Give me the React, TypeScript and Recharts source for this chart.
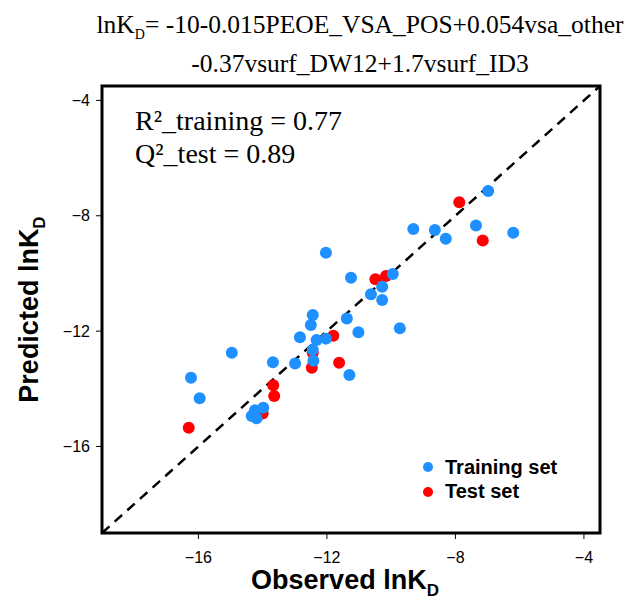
import React from 'react'
import {
  Legend,
  ReferenceArea,
  ReferenceLine,
  Scatter,
  ScatterChart,
  XAxis,
  YAxis,
} from 'recharts'

// values (observed vs predicted lnK_D)
const trainObserved = [
  -16.23, -15.96, -14.96, -13.68, -12.99, -12.84, -12.5, -12.44, -12.32, -12.44, -12.42, -12.03,
  -11.38, -11.3, -11.02, -12.03, -11.25, -10.63, -10.28, -10.28, -9.95, -9.73, -9.31, -8.64, -8.3,
  -7.36, -6.98, -6.2, -14.24, -14.34, -13.98, -14.19,
]
const trainPredicted = [
  -13.62, -14.33, -12.75, -13.08, -13.12, -12.21, -11.79, -11.44, -12.31, -12.65, -13.03, -12.26,
  -11.56, -13.52, -12.04, -9.28, -10.15, -10.72, -10.46, -10.92, -10.02, -11.9, -8.46, -8.49, -8.8,
  -8.34, -7.14, -8.59, -14.74, -14.94, -14.66, -15.02,
]
const testObserved = [-16.3, -13.67, -13.64, -14.0, -12.47, -12.44, -11.8, -11.62, -10.49, -10.16, -7.88, -7.15]
const testPredicted = [-15.35, -13.88, -14.25, -14.86, -13.27, -12.75, -12.16, -13.1, -10.2, -10.09, -7.53, -8.86]

const axisDomain: [number, number] = [-19, -3.5]
const axisTicks = [-16, -12, -8, -4]
const statLines = ['R²_training = 0.77', 'Q²_test = 0.89']
const legendItems = [
  { name: 'Training set', color: '#1E90FF' },
  { name: 'Test set', color: '#FF0000' },
]

const trainData = trainObserved.map((x, i) => ({ x, y: trainPredicted[i] }))
const testData = testObserved.map((x, i) => ({ x, y: testPredicted[i] }))

const SANS = '"Liberation Sans", Arial, sans-serif'
const SERIF = '"Liberation Serif", "Times New Roman", serif'

const fmt = (v: number) => String(v).replace('-', '\u2212')

const dot = (color: string) => (p: any) => <circle cx={p.cx} cy={p.cy} r={6} fill={color} />

const XTitle = ({ viewBox }: any) => {
  const cx = viewBox.x + viewBox.width / 2 - 6
  return (
    <text x={cx} y={589} textAnchor="middle" fontFamily={SANS} fontWeight="bold" fontSize={27} fill="#000">
      <tspan>Observed lnK</tspan>
      <tspan fontSize={17} dy={7}>D</tspan>
    </text>
  )
}

const YTitle = ({ viewBox }: any) => {
  const cy = viewBox.y + viewBox.height / 2
  return (
    <text
      transform={`translate(38, ${cy}) rotate(-90)`}
      textAnchor="middle"
      fontFamily={SANS}
      fontWeight="bold"
      fontSize={27}
      fill="#000"
    >
      <tspan>Predicted lnK</tspan>
      <tspan fontSize={17} dy={7}>D</tspan>
    </text>
  )
}

const LegendBox = () => (
  <div style={{ fontFamily: SANS, fontWeight: 'bold', fontSize: 20, color: '#000' }}>
    {legendItems.map((item) => (
      <div key={item.name} style={{ display: 'flex', alignItems: 'center', height: 24.4 }}>
        <svg width={12} height={12}>
          <circle cx={6} cy={6} r={5} fill={item.color} />
        </svg>
        <span style={{ marginLeft: 11, whiteSpace: 'nowrap' }}>{item.name}</span>
      </div>
    ))}
  </div>
)

export default function App() {
  return (
    <div
      style={{
        position: 'absolute',
        left: 0,
        top: 0,
        width: 637,
        height: 602,
        overflow: 'hidden',
        background: '#fff',
      }}
    >
      <div
        style={{
          position: 'absolute',
          left: 0,
          top: 10,
          width: 637,
          paddingLeft: 83,
          boxSizing: 'border-box',
          textAlign: 'center',
          fontFamily: SERIF,
          fontSize: 25.5,
          lineHeight: '29px',
          color: '#000',
        }}
      >
        <div style={{ whiteSpace: 'nowrap' }}>
          lnK<sub style={{ fontSize: 14 }}>D</sub>= -10-0.015PEOE_VSA_POS+0.054vsa_other
        </div>
        <div style={{ whiteSpace: 'nowrap' }}>-0.37vsurf_DW12+1.7vsurf_ID3</div>
      </div>

      <ScatterChart width={637} height={602} margin={{ top: 86, right: 37, bottom: 0, left: 0 }}>
        <XAxis
          type="number"
          dataKey="x"
          domain={axisDomain}
          ticks={axisTicks}
          allowDataOverflow
          height={69}
          axisLine={false}
          tickLine={{ stroke: '#000', strokeWidth: 1 }}
          tickSize={6}
          tickMargin={13}
          tickFormatter={fmt}
          tick={{ fill: '#000', fontSize: 16, fontFamily: SANS }}
          label={{ content: (props: any) => <XTitle {...props} /> }}
        />
        <YAxis
          type="number"
          dataKey="y"
          domain={axisDomain}
          ticks={axisTicks}
          allowDataOverflow
          width={102}
          axisLine={false}
          tickLine={{ stroke: '#000', strokeWidth: 1 }}
          tickSize={6}
          tickMargin={6}
          tickFormatter={fmt}
          tick={{ fill: '#000', fontSize: 16, fontFamily: SANS }}
          label={{ content: (props: any) => <YTitle {...props} /> }}
        />
        <ReferenceLine
          segment={[
            { x: axisDomain[0], y: axisDomain[0] },
            { x: axisDomain[1], y: axisDomain[1] },
          ]}
          stroke="#000"
          strokeWidth={2.5}
          strokeDasharray="10 7"
        />
        <Scatter name="Test set" data={testData} fill="#FF0000" shape={dot('#FF0000')} isAnimationActive={false} />
        <Scatter name="Training set" data={trainData} fill="#1E90FF" shape={dot('#1E90FF')} isAnimationActive={false} />
        <ReferenceArea
          x1={axisDomain[0]}
          x2={axisDomain[1]}
          y1={axisDomain[0]}
          y2={axisDomain[1]}
          fill="none"
          fillOpacity={0}
          stroke="#000"
          strokeWidth={3}
        />
        <Legend
          layout="vertical"
          align="center"
          verticalAlign="middle"
          wrapperStyle={{ left: 422, top: 455, width: 'auto', height: 'auto' }}
          content={() => <LegendBox />}
        />
      </ScatterChart>

      <div
        style={{
          position: 'absolute',
          left: 135,
          top: 104,
          fontFamily: SERIF,
          fontSize: 28,
          lineHeight: '33px',
          color: '#000',
          whiteSpace: 'nowrap',
        }}
      >
        {statLines.map((s) => (
          <div key={s}>{s}</div>
        ))}
      </div>
    </div>
  )
}
